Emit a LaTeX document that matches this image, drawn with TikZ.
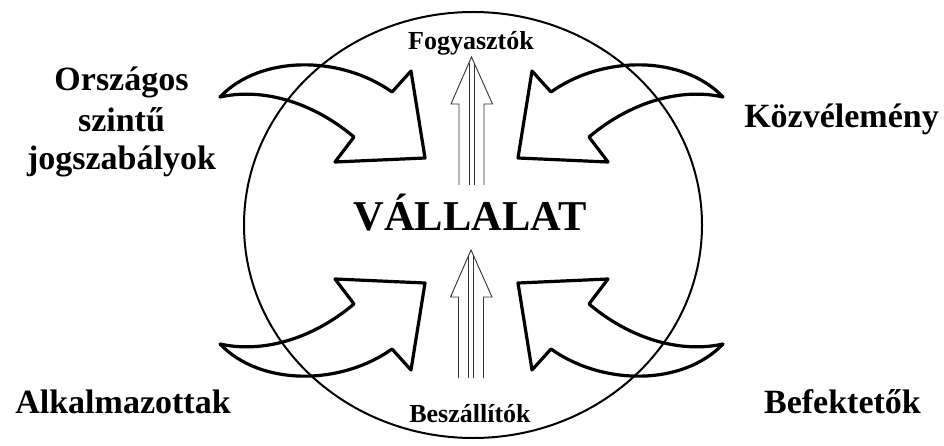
\documentclass[tikz,border=0pt]{standalone}
\usepackage{fontspec}
\setmainfont{Liberation Serif}
\begin{document}
\begin{tikzpicture}[x=1pt,y=-1pt,
  bigarrow/.style={line width=3.2pt, line join=round, line cap=round, black},
  hollow/.style={line width=0.9pt, draw=black!80},
  lbl/.style={font=\fontsize{34}{38}\selectfont\bfseries, anchor=base, inner sep=0pt},
  smalllbl/.style={font=\fontsize{26}{30}\selectfont\bfseries, anchor=base, inner sep=0pt},
  biglbl/.style={font=\fontsize{42.5}{48}\selectfont\bfseries, anchor=base, inner sep=0pt}]
\useasboundingbox (0,0) rectangle (944,446);
\fill[white] (0,0) rectangle (944,446);

% circle
\draw[line width=2pt] (473,225) ellipse [x radius=229, y radius=213];

% curved arrows
\newcommand{\curvedarrow}{%
  \draw[bigarrow] (-79.5,-128.5) -- (-60.5,-149.5) -- (-46.5,-62.5) -- (-136.5,-58.5) -- (-117.5,-83.5)
    .. controls (-161.5,-120.5) and (-211.5,-132.5) .. (-251.5,-123.5)
    .. controls (-211.5,-165.5) and (-131.5,-165.5) .. (-79.5,-128.5);}
\begin{scope}[shift={(471.5,220.5)}]\curvedarrow\end{scope}
\begin{scope}[shift={(471.5,220.5)},xscale=-1]\curvedarrow\end{scope}
\begin{scope}[shift={(471.5,220.5)},yscale=-1]\curvedarrow\end{scope}
\begin{scope}[shift={(471.5,220.5)},xscale=-1,yscale=-1]\curvedarrow\end{scope}

% hollow vertical arrows
\newcommand{\hollowarrow}{%
  \draw[hollow] (-12.5,128) -- (-12.5,47) -- (-20.5,47) -- (0,0) -- (21,47) -- (12.5,47) -- (12.5,128);
  \draw[hollow] (-2.5,128) -- (-2.5,5.6);
  \draw[hollow] (2.5,128) -- (2.5,5.6);}
\begin{scope}[shift={(471.5,57)}]\hollowarrow\end{scope}
\begin{scope}[shift={(471,250)}]\hollowarrow\end{scope}

% texts
\node[smalllbl] (fog) at (471,50) {Fogyasztók};
\node[smalllbl] (besz) at (470,422) {Beszállítók};
\node[biglbl] (vall) at (470,230) {VÁLLALAT};
\node[lbl] (orsz1) at (121.5,91) {Országos};
\node[lbl] (orsz2) at (121.5,132) {szintű};
\node[lbl] (orsz3) at (121.5,170) {jogszabályok};
\node[lbl] (kozv) at (841.5,128) {Közvélemény};
\node[lbl] (alk) at (123,413) {Alkalmazottak};
\node[lbl] (bef) at (842.5,413) {Befektetők};
\end{tikzpicture}
\end{document}
